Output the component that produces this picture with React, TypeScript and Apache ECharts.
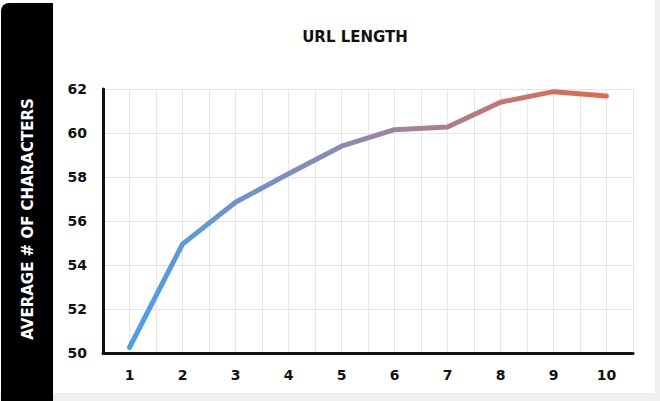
import React, { useEffect, useRef } from "react";
import * as echarts from "echarts";

const categories = [1, 2, 3, 4, 5, 6, 7, 8, 9, 10];
const values = [50.25, 54.95, 56.85, 58.15, 59.4, 60.15, 60.27, 61.4, 61.88, 61.68];
const chartTitle = "URL LENGTH";
const yTitle = "AVERAGE # OF CHARACTERS";
const yMin = 50;
const yMax = 62;
const yStep = 2;

const FONT = "'DejaVu Sans', sans-serif";

export default function App() {
  const ref = useRef<HTMLDivElement>(null);
  useEffect(() => {
    if (!ref.current) return;
    const chart = echarts.init(ref.current, undefined, { renderer: "svg" });
    const data = categories.map((c, i) => [c, values[i]]);
    chart.setOption({
      animation: false,
      backgroundColor: "#efefef",
      graphic: [
        { type: "rect", z: -10, shape: { x: 0, y: 0, width: 655, height: 393 }, style: { fill: "#ffffff" }, silent: true },
        { type: "rect", z: -9, shape: { x: 1, y: 3, width: 52, height: 398, r: [8, 0, 0, 0] }, style: { fill: "#000000" }, silent: true },
        {
          type: "text",
          z: 10,
          x: 28,
          y: 219,
          rotation: Math.PI / 2,
          style: {
            text: yTitle,
            fill: "#ffffff",
            font: `bold 15px ${FONT}`,
            align: "center",
            verticalAlign: "middle",
          },
        },
        {
          type: "text",
          z: 10,
          x: 355,
          y: 37,
          style: {
            text: chartTitle,
            fill: "#111111",
            font: `bold 15px ${FONT}`,
            align: "center",
            verticalAlign: "middle",
          },
        },
      ],
      grid: { left: 103, right: 27, top: 89, bottom: 48, containLabel: false },
      xAxis: {
        type: "value",
        min: 0.5,
        max: 10.5,
        interval: 0.5,
        axisLine: { show: true, onZero: false, lineStyle: { color: "#111111", width: 3 } },
        axisTick: { show: false },
        splitLine: { show: true, lineStyle: { color: "#e6e6e6", width: 1 } },
        axisLabel: {
          margin: 15,
          color: "#111111",
          fontFamily: FONT,
          fontWeight: "bold",
          fontSize: 14,
          formatter: (v: number) => (categories.includes(v) ? String(v) : ""),
        },
      },
      yAxis: {
        type: "value",
        min: yMin,
        max: yMax,
        interval: yStep,
        axisLine: { show: true, onZero: false, lineStyle: { color: "#111111", width: 3 } },
        axisTick: { show: false },
        splitLine: { show: true, lineStyle: { color: "#e6e6e6", width: 1 } },
        axisLabel: {
          margin: 16,
          color: "#111111",
          fontFamily: FONT,
          fontWeight: "bold",
          fontSize: 14,
        },
      },
      series: [
        {
          type: "line",
          data,
          showSymbol: false,
          symbol: "none",
          lineStyle: {
            width: 5,
            cap: "round",
            join: "round",
            color: new echarts.graphic.LinearGradient(0, 0, 1, 0, [
              { offset: 0, color: "#4b9fec" },
              { offset: 0.5, color: "#9686aa" },
              { offset: 1, color: "#e4684c" },
            ]),
          },
        },
      ],
    });
    return () => chart.dispose();
  }, []);
  return (
    <div
      ref={ref}
      style={{ position: "fixed", left: 0, top: 0, width: 660, height: 401 }}
    />
  );
}
